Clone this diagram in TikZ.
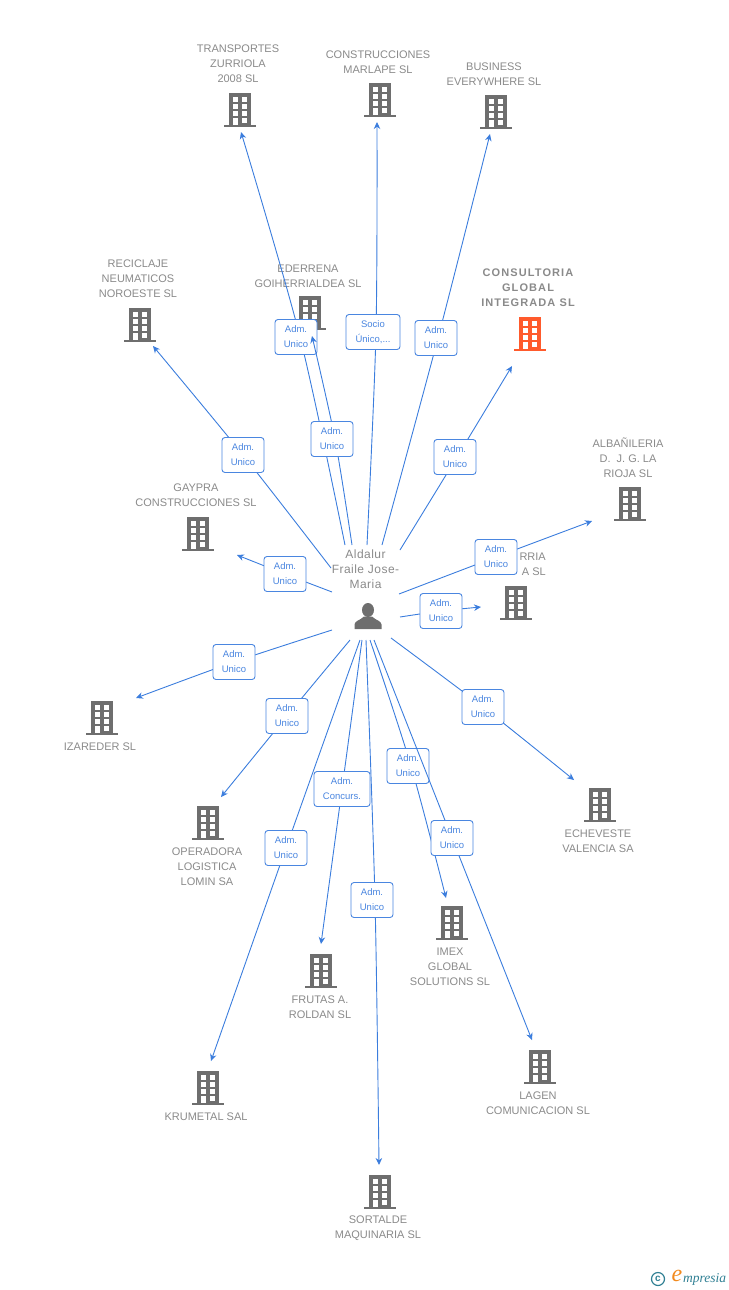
\documentclass[tikz,border=0pt]{standalone}
\usepackage{fontspec}
\setmainfont{Liberation Sans}
\newfontfamily\logofont{Liberation Serif}
\definecolor{linkblue}{HTML}{3B7DDD}
\definecolor{tagblue}{HTML}{4A86E0}
\definecolor{iconGray}{HTML}{6E6E6E}
\definecolor{labelGray}{HTML}{8A8A8A}
\definecolor{iconRed}{HTML}{FF5A2C}
\definecolor{logoTeal}{HTML}{2F7F93}
\definecolor{logoOrange}{HTML}{F28A1E}
\usetikzlibrary{arrows.meta}
\tikzset{
  link/.style={draw=linkblue,line width=.9pt,-{Stealth[length=7pt,width=6.5pt]}},
  tag/.style={draw=tagblue,fill=white,rounded corners=3pt,line width=.9pt,text=tagblue,
    font=\fontsize{9.5}{15}\selectfont,align=center,inner sep=0pt,minimum width=42pt,minimum height=35pt},
  comp/.style={text=labelGray,font=\fontsize{11}{15}\selectfont,align=center,inner sep=0pt},
  building/.style={minimum width=32pt,minimum height=34pt,inner sep=0pt,path picture={
    \fill[#1] (-16,17) rectangle (16,14.6);
    \fill[#1] (-11,15) rectangle (11,-17);
    \foreach \yy in {-13,-6,1} \foreach \xx in {-7,2}
      \fill[white] (\xx,\yy) rectangle ++(5,5);
    \fill[white] (-7,8) rectangle ++(5,7);
    \fill[white] (2,8) rectangle ++(5,5);
  }},
  person/.style={minimum width=30pt,minimum height=30pt,inner sep=0pt,path picture={
    \fill[iconGray] (0,-6.5) ellipse (6 and 7);
    \fill[iconGray] (-13.5,12.5) -- (-13.5,8) .. controls (-13,4) and (-8,4) .. (-4,0)
      -- (4,0) .. controls (8,4) and (13,4) .. (13.5,8) -- (13.5,12.5) -- cycle;
  }}
}
\begin{document}
\begin{tikzpicture}[x=1pt,y=-1pt]
  \useasboundingbox (0,0) rectangle (728,1290);

  % buildings
  \node[building=iconGray] (transportes) at (240,110) {};
  \node[building=iconGray] (marlape) at (380,100) {};
  \node[building=iconGray] (business) at (496,112) {};
  \node[building=iconGray] (ederrena) at (310,313) {};
  \node[building=iconGray] (reciclaje) at (140,325) {};
  \node[building=iconRed] (consultoria) at (530,334) {};
  \node[building=iconGray] (albanileria) at (630,504) {};
  \node[building=iconGray] (rioja) at (516,603) {};
  \node[building=iconGray] (gaypra) at (198,534) {};
  \node[building=iconGray] (izareder) at (102,718) {};
  \node[building=iconGray] (operadora) at (208,823) {};
  \node[building=iconGray] (krumetal) at (208,1088) {};
  \node[building=iconGray] (frutas) at (321,971) {};
  \node[building=iconGray] (imex) at (452,923) {};
  \node[building=iconGray] (lagen) at (540,1067) {};
  \node[building=iconGray] (echeveste) at (600,805) {};
  \node[building=iconGray] (sortalde) at (380,1192) {};
  \node[person] (aldalur) at (368,616.5) {};

  % labels
  \node[comp] (ltransportes) at (238,64) {TRANSPORTES\\ZURRIOLA\\2008 SL};
  \node[comp] (lmarlape) at (378,62) {CONSTRUCCIONES\\MARLAPE SL};
  \node[comp] (lbusiness) at (494,74) {BUSINESS\\EVERYWHERE SL};
  \node[comp] (lederrena) at (308,276) {EDERRENA\\GOIHERRIALDEA SL};
  \node[comp] (lreciclaje) at (138,279) {RECICLAJE\\NEUMATICOS\\NOROESTE SL};
  \node[comp,font=\fontsize{11}{15}\selectfont\bfseries\addfontfeature{LetterSpace=10}] (lconsultoria) at (528,288) {CONSULTORIA\\GLOBAL\\INTEGRADA SL};
  \node[comp] (lalbanileria) at (628,458) {ALBAÑILERIA\\D.~~J. G. LA\\RIOJA SL};
  \node[comp,align=right,anchor=east] (lrioja) at (546,564) {RRIA\\A SL\hspace{4pt}};
  \node[comp] (lgaypra) at (196,495) {GAYPRA\\CONSTRUCCIONES SL};
  \node[comp] (lizareder) at (100,747) {IZAREDER SL};
  \node[comp] (loperadora) at (207,867) {OPERADORA\\LOGISTICA\\LOMIN SA};
  \node[comp] (lkrumetal) at (206,1117) {KRUMETAL SAL};
  \node[comp] (lfrutas) at (320,1007) {FRUTAS A.\\ROLDAN SL};
  \node[comp] (limex) at (450,967) {IMEX\\GLOBAL\\SOLUTIONS SL};
  \node[comp] (llagen) at (538,1103) {LAGEN\\COMUNICACION SL};
  \node[comp] (lecheveste) at (598,841) {ECHEVESTE\\VALENCIA SA};
  \node[comp] (lsortalde) at (378,1228) {SORTALDE\\MAQUINARIA SL};
  \node[comp,font=\fontsize{12}{15}\selectfont\addfontfeature{LetterSpace=4}] (laldalur) at (365.5,569) {Aldalur\\Fraile Jose-\\Maria};

  % free ends and the point where each line crosses its tag
  \foreach \n/\fx/\fy/\tx/\ty/\vx/\vy in {
    a/345/545/241/132/300/337, b/352/545/312/336/335/439,
    c/367/545/377/122/376/332, d/382/545/490/134/438/338,
    e/400/550/512/366/457/457, f/399/594/592/521/496/557,
    g/400/617/481/607/441/611, h/332/592/237/555/285/574,
    i/332/630/136/698/234/662, j/350/640/221/797/287/716,
    k/360/640/211/1061/286/848, l/362/640/321/944/342/789,
    m/366/640/379/1165/375/900, n/370/640/446/898/411/766,
    o/374/640/532/1040/452/838, p/391/638/574/780/483/707,
    q/331/568/153/346/243/455}{
    \coordinate (from\n) at (\fx,\fy);
    \coordinate (to\n) at (\tx,\ty);
    \coordinate (via\n) at (\vx,\vy);
  }

  % connectors, each one with its tag
  \foreach \n/\bx/\by/\txt/\tagw in {
    q/243/455/{Adm.\\Unico}/42, h/285/574/{Adm.\\Unico}/42, i/234/662/{Adm.\\Unico}/42,
    j/287/716/{Adm.\\Unico}/42, a/296/337/{Adm.\\Unico}/42, b/332/439/{Adm.\\Unico}/42,
    c/373/332/{Socio\\Único,...}/54, d/436/338/{Adm.\\Unico}/42, e/455/457/{Adm.\\Unico}/42,
    g/441/611/{Adm.\\Unico}/42, f/496/557/{Adm.\\Unico}/42, p/483/707/{Adm.\\Unico}/42,
    k/286/848/{Adm.\\Unico}/42, l/342/789/{Adm.\\Concurs.}/56, m/372/900/{Adm.\\Unico}/42,
    n/408/766/{Adm.\\Unico}/42, o/452/838/{Adm.\\Unico}/42}{
    \draw[link] plot[smooth] coordinates {(from\n) (via\n) (to\n)};
    \node[tag,minimum width=\tagw pt] (tag\n) at (\bx,\by) {\txt};
  }

  % logo
  \node[circle,draw=logoTeal,line width=1.2pt,text=logoTeal,inner sep=0pt,minimum size=13pt,font=\fontsize{10}{10}\selectfont\bfseries] (copyright) at (658,1279) {c};
  \node[text=logoOrange,inner sep=0pt,font=\logofont\fontsize{24}{24}\selectfont\itshape] (logoe) at (677,1276) {e};
  \node[text=logoTeal,inner sep=0pt,anchor=west,font=\logofont\fontsize{13.5}{14}\selectfont\itshape] (logotext) at (683,1279) {mpresia};
\end{tikzpicture}
\end{document}
